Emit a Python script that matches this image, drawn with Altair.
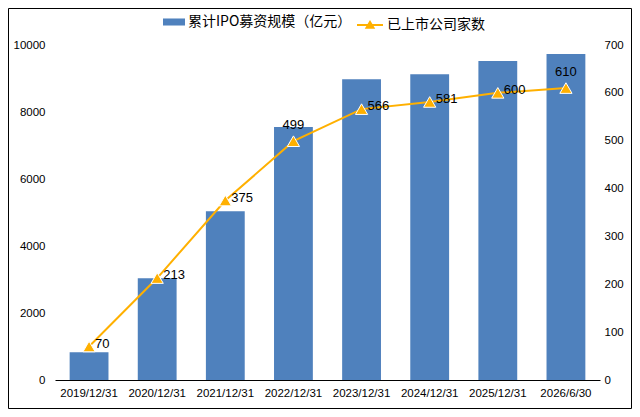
import altair as alt
import pandas as pd

dates = ["2019/12/31", "2020/12/31", "2021/12/31", "2022/12/31",
         "2023/12/31", "2024/12/31", "2025/12/31", "2026/6/30"]
ipo_amount = [830, 3040, 5040, 7550, 8980, 9130, 9520, 9730]
company_count = [70, 213, 375, 499, 566, 581, 600, 610]
above_label_dates = ["2022/12/31", "2026/6/30"]

bar_name = "累计IPO募资规模（亿元）"
line_name = "已上市公司家数"

BLUE = "#4F81BD"
ORANGE = "#FFB000"
AXIS_FONT = "Liberation Sans"
CJK_FONT = "Noto Sans CJK SC"

df = pd.DataFrame({
    "date": dates,
    "amount": ipo_amount,
    "count": company_count,
    "bar_series": bar_name,
    "line_series": line_name,
})

W, H = 545, 335
PAD = {"left": 47, "top": 37, "right": 32, "bottom": 29}

x_enc = alt.X(
    "date:N", sort=dates,
    scale=alt.Scale(paddingInner=0.43, paddingOuter=0.215),
    axis=alt.Axis(title=None, labelAngle=0, domainColor="black", domainWidth=1,
                  ticks=False, labelPadding=7, grid=False,
                  labelFont=AXIS_FONT, labelFontSize=11.5, labelColor="black"),
)

bars = alt.Chart(df).mark_bar().encode(
    x=x_enc,
    y=alt.Y("amount:Q", scale=alt.Scale(domain=[0, 10000]),
            axis=alt.Axis(title=None, values=[0, 2000, 4000, 6000, 8000, 10000],
                          format="d",
                          domain=False, ticks=False, grid=False, labelPadding=10,
                          labelFont=AXIS_FONT, labelFontSize=11.5, labelColor="black")),
    fill=alt.Fill("bar_series:N", scale=alt.Scale(range=[BLUE]),
                  legend=alt.Legend(title=None, orient="none", legendX=108, legendY=-34,
                                    symbolType="M-1,-0.32H1V0.32H-1Z", symbolSize=484,
                                    symbolStrokeWidth=0, labelFont=CJK_FONT,
                                    labelFontSize=14, labelColor="black", labelOffset=3,
                                    labelLimit=400, padding=0)),
)

y_right = alt.Y("count:Q", scale=alt.Scale(domain=[0, 700]),
                axis=alt.Axis(title=None, orient="right",
                              values=[0, 100, 200, 300, 400, 500, 600, 700],
                              domain=False, ticks=False, grid=False, labelPadding=4,
                              labelFont=AXIS_FONT, labelFontSize=11.5, labelColor="black"))

line = alt.Chart(df).mark_line(strokeWidth=2).encode(
    x=x_enc,
    y=y_right,
    stroke=alt.Stroke("line_series:N", scale=alt.Scale(range=[ORANGE]),
                      legend=alt.Legend(title=None, orient="none", legendX=301, legendY=-34,
                                        symbolType="M-1,0H1M-0.27,0.22L0,-0.24L0.27,0.22Z",
                                        symbolSize=676, symbolStrokeWidth=2,
                                        symbolFillColor=ORANGE,
                                        labelFont=CJK_FONT, labelFontSize=14,
                                        labelColor="black", labelOffset=3,
                                        labelLimit=400, padding=0)),
)

points = alt.Chart(df).mark_point(shape="triangle-up", filled=True, fill=ORANGE,
                                  stroke="white", strokeWidth=1, size=150, opacity=1).encode(
    x=x_enc, y=y_right)

labels_right = alt.Chart(df).transform_filter(
    ~alt.FieldOneOfPredicate(field="date", oneOf=above_label_dates)
).mark_text(align="left", baseline="middle", dx=6, dy=-3, font=AXIS_FONT,
            fontSize=13, color="black").encode(x=x_enc, y=y_right, text="count:Q")

labels_above = alt.Chart(df).transform_filter(
    alt.FieldOneOfPredicate(field="date", oneOf=above_label_dates)
).mark_text(align="center", baseline="middle", dx=0, dy=-16, font=AXIS_FONT,
            fontSize=13, color="black").encode(x=x_enc, y=y_right, text="count:Q")

frame = alt.Chart(pd.DataFrame({"a": [0]})).mark_rect(
    filled=False, stroke="black", strokeWidth=1).encode(
    x=alt.value(-PAD["left"] + 0.5), x2=alt.value(W + PAD["right"] - 0.5),
    y=alt.value(-PAD["top"] + 0.5), y2=alt.value(H + PAD["bottom"] - 0.5))

chart = alt.layer(
    bars,
    alt.layer(line, points, labels_right, labels_above),
    frame,
).resolve_scale(y="independent", fill="independent", stroke="independent").properties(
    width=W, height=H,
    autosize=alt.AutoSizeParams(type="none"),
    padding=PAD,
    background="white",
).configure_view(stroke=None)

chart.save("out.html", embed_options={"renderer": "svg", "actions": False})
